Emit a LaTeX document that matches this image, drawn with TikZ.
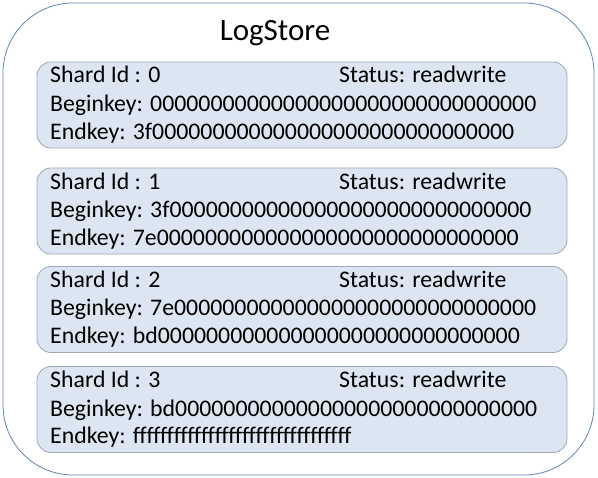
\documentclass[tikz,border=0pt]{standalone}
\usepackage{fontspec}
\setmainfont{Carlito}
\usepackage{tikz}
\usetikzlibrary{positioning}

\definecolor{storeline}{RGB}{95,130,180}
\definecolor{shardline}{RGB}{160,165,175}
\definecolor{shardfill}{RGB}{220,230,242}

\begin{document}
\begin{tikzpicture}[
    x=1pt, y=-1pt,
    store/.style={
        rectangle,
        draw=storeline,
        line width=0.8pt,
        rounded corners=70pt,
        minimum width=591pt,
        minimum height=472pt,
        inner sep=0pt
    },
    shardbox/.style={
        rectangle,
        draw=shardline,
        fill=shardfill,
        line width=0.8pt,
        rounded corners=14pt,
        minimum width=530pt,
        minimum height=86pt,
        inner sep=0pt
    },
    title/.style={
        anchor=base,
        inner sep=0pt,
        font=\fontsize{31}{36}\selectfont
    },
    field/.style={
        anchor=base west,
        inner sep=0pt,
        font=\fontsize{23.8}{28}\selectfont
    }
]
\useasboundingbox (0,0) rectangle (598,478);

% Outer store
\node [store] (logstore) at (298.5,239) {};
\node [title] (name) at (275,41) {LogStore};

% Shards
\node [shardbox] (shard0) at (302,105) {};
\node [shardbox] (shard1) at (302,211) {};
\node [shardbox] (shard2) at (302,309.5) {};
\node [shardbox] (shard3) at (302,409.5) {};

% Shard 0
\node [field] (id0) at (50,83) {Shard Id : 0};
\node [field] (status0) at (339,83) {Status: readwrite};
\node [field] (begin0) at (50,111.5) {Beginkey: 00000000000000000000000000000000};
\node [field] (end0) at (50,140) {Endkey: 3f000000000000000000000000000000};

% Shard 1
\node [field] (id1) at (50,190) {Shard Id : 1};
\node [field] (status1) at (339,190) {Status: readwrite};
\node [field] (begin1) at (50,218) {Beginkey: 3f000000000000000000000000000000};
\node [field] (end1) at (50,245.5) {Endkey: 7e000000000000000000000000000000};

% Shard 2
\node [field] (id2) at (50,288) {Shard Id : 2};
\node [field] (status2) at (339,288) {Status: readwrite};
\node [field] (begin2) at (50,316) {Beginkey: 7e000000000000000000000000000000};
\node [field] (end2) at (50,344) {Endkey: bd000000000000000000000000000000};

% Shard 3
\node [field] (id3) at (50,388) {Shard Id : 3};
\node [field] (status3) at (339,388) {Status: readwrite};
\node [field] (begin3) at (50,417) {Beginkey: bd000000000000000000000000000000};
\node [field] (end3) at (50,444) {Endkey: ffffffffffffffffffffffffffffffff};

\end{tikzpicture}
\end{document}
